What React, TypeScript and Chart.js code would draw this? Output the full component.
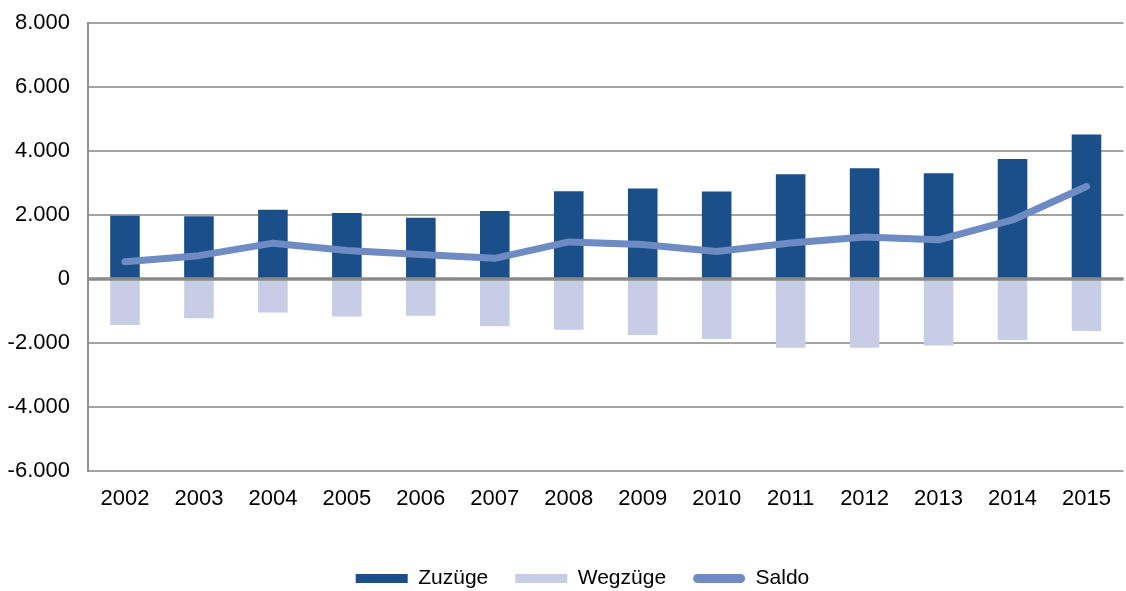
import React, { useEffect, useRef } from "react";
import { Chart, registerables } from "chart.js";

Chart.register(...registerables);

const years = ["2002", "2003", "2004", "2005", "2006", "2007", "2008", "2009", "2010", "2011", "2012", "2013", "2014", "2015"];
const zuzuege = [1980, 1960, 2165, 2060, 1915, 2125, 2745, 2825, 2735, 3275, 3460, 3305, 3750, 4515];
const wegzuege = [-1440, -1230, -1045, -1170, -1150, -1480, -1585, -1750, -1875, -2150, -2145, -2080, -1905, -1625];
const saldo = [540, 730, 1120, 890, 765, 645, 1160, 1075, 860, 1125, 1315, 1225, 1845, 2890];
const yTicks = [-6000, -4000, -2000, 0, 2000, 4000, 6000, 8000];
const yTickLabels = ["-6.000", "-4.000", "-2.000", "0", "2.000", "4.000", "6.000", "8.000"];

const COL_ZU = "#1a4f8a";
const COL_WEG = "#c8cde6";
const COL_SALDO = "#6f8bc3";
const FONT = "'Liberation Sans', Arial, sans-serif";

const zeroLine = {
  id: "zeroLine",
  afterDatasetsDraw(chart: any) {
    const y = chart.scales.y.getPixelForValue(0);
    const { left, right } = chart.chartArea;
    const ctx = chart.ctx;
    ctx.save();
    ctx.strokeStyle = "#8a8a8a";
    ctx.lineWidth = 3.5;
    ctx.beginPath();
    ctx.moveTo(left, y);
    ctx.lineTo(right, y);
    ctx.stroke();
    ctx.restore();
  },
};

const legendShift = {
  id: "legendShift",
  afterLayout(chart: any) {
    const lg = chart.legend;
    if (lg) {
      lg.left += 20;
      lg.right += 20;
    }
  },
};

export default function App() {
  const ref = useRef<HTMLCanvasElement | null>(null);

  useEffect(() => {
    document.body.style.margin = "0";
    const chart = new Chart(ref.current as HTMLCanvasElement, {
      data: {
        labels: years,
        datasets: [
          {
            type: "line",
            label: "Saldo",
            data: saldo,
            borderColor: COL_SALDO,
            backgroundColor: COL_SALDO,
            borderWidth: 7,
            pointRadius: 0,
            borderCapStyle: "round",
            borderJoinStyle: "round",
            tension: 0,
            stack: "saldo",
            order: 0,
          },
          {
            type: "bar",
            label: "Zuzüge",
            data: zuzuege,
            backgroundColor: COL_ZU,
            stack: "bars",
            order: 1,
          },
          {
            type: "bar",
            label: "Wegzüge",
            data: wegzuege,
            backgroundColor: COL_WEG,
            stack: "bars",
            order: 1,
          },
        ],
      } as any,
      options: {
        animation: false,
        responsive: true,
        maintainAspectRatio: false,
        layout: { padding: { top: 23, right: 1, left: 0, bottom: -8 } },
        datasets: { bar: { barPercentage: 0.4, categoryPercentage: 1 } },
        plugins: {
          tooltip: { enabled: false },
          legend: {
            position: "bottom",
            labels: {
              font: { family: FONT, size: 21 },
              color: "#000",
              boxWidth: 52,
              boxHeight: 9,
              padding: 27,
              useBorderRadius: true,
              generateLabels: (c: any) => {
                const order = [1, 2, 0];
                return order.map((i) => {
                  const ds = c.data.datasets[i];
                  return {
                    text: ds.label,
                    fillStyle: ds.backgroundColor,
                    strokeStyle: ds.backgroundColor,
                    lineWidth: 0,
                    hidden: false,
                    datasetIndex: i,
                    fontColor: "#000",
                    borderRadius: i === 0 ? 4.5 : 0,
                  };
                });
              },
            },
          },
        },
        scales: {
          x: {
            stacked: true,
            grid: { display: false, drawTicks: false },
            border: { display: false },
            ticks: { font: { family: FONT, size: 22 }, color: "#000", padding: 15 },
            afterFit: (s: any) => {
              s.height = 70;
            },
          },
          y: {
            stacked: true,
            min: -6000,
            max: 8000,
            afterBuildTicks: (s: any) => {
              s.ticks = yTicks.map((v) => ({ value: v }));
            },
            grid: {
              color: "#a3a3a3",
              lineWidth: 2,
              drawTicks: false,
            },
            border: { display: true, color: "#8f8f8f", width: 2 },
            ticks: {
              font: { family: FONT, size: 22 },
              color: "#000",
              padding: 18,
              callback: (v: any) => {
                const i = yTicks.indexOf(Number(v));
                return i >= 0 ? yTickLabels[i] : "";
              },
            },
            afterFit: (s: any) => {
              s.width = 88;
              s.paddingTop = 8;
              s.paddingBottom = 8;
            },
          },
        },
      },
      plugins: [zeroLine, legendShift],
    });
    return () => chart.destroy();
  }, []);

  return (
    <div style={{ width: 1126, height: 591, position: "relative" }}>
      <canvas ref={ref} />
    </div>
  );
}
